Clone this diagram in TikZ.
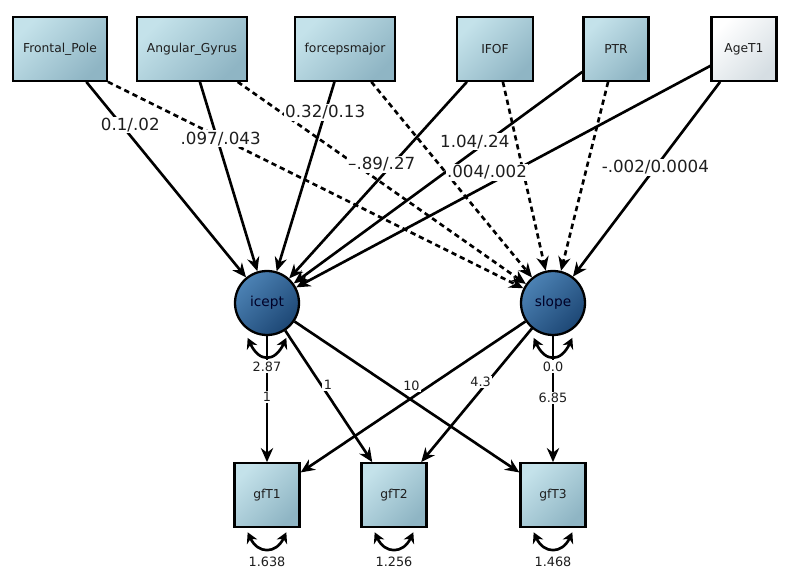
\documentclass[tikz,border=0pt]{standalone}
\usepackage{fontspec}
\setmainfont{DejaVu Sans}
\usetikzlibrary{arrows.meta}

\definecolor{obstop}{HTML}{C4E2EA}
\definecolor{obsbot}{HTML}{8FB5C4}
\definecolor{covtop}{HTML}{FFFFFF}
\definecolor{covbot}{HTML}{D6DEE3}
\definecolor{lattop}{HTML}{4C82B4}
\definecolor{latbot}{HTML}{1D4775}
\definecolor{labtext}{HTML}{1E1E1E}

\begin{document}
\begin{tikzpicture}[x = 0.02cm, y = -0.02cm, >= {Stealth[length=8pt,width=7pt]},
    obs/.style = {draw, line width=1.3pt, minimum width=1.3cm, minimum height=1.27cm,
      inner xsep=0.2cm, top color=obstop, bottom color=obsbot, shading angle=45,
      font=\fontsize{7}{8}\selectfont, text=labtext},
    cov/.style = {obs, top color=covtop, bottom color=covbot, shading angle=45},
    lat/.style = {draw, circle, line width=1.3pt, minimum size=1.28cm, inner sep=0pt,
      top color=lattop, bottom color=latbot, shading angle=45,
      font=\fontsize{7.8}{9}\selectfont, text=black!85!blue},
    reg/.style = {->, line width=1.5pt},
    nsreg/.style = {reg, dash pattern=on 3pt off 2.2pt},
    resvar/.style = {<->, line width=1.5pt, out=-65, in=-115, >={Stealth[length=6pt,width=6.5pt]}},
    coef/.style = {fill=white, inner sep=0.8pt, text=labtext, font=\fontsize{9.5}{10}\selectfont},
    load/.style = {fill=white, inner sep=0.8pt, text=labtext, font=\fontsize{7.3}{8}\selectfont}]
  \useasboundingbox (0, 0) rectangle (788, 574);

  % predictors
  \node[obs] (fp) at (60, 49) {Frontal\_Pole};
  \node[obs] (ag) at (192, 49) {Angular\_Gyrus};
  \node[obs] (fm) at (345, 49) {forcepsmajor};
  \node[obs, minimum width=1.52cm] (ifof) at (495, 49) {IFOF};
  \node[obs] (ptr) at (616, 49) {PTR};
  \node[cov] (age) at (744, 49) {AgeT1};

  % growth factors and measures
  \node[lat] (icept) at (267, 303) {icept};
  \node[lat] (slope) at (553, 303) {slope};
  \node[obs] (t1) at (267, 495) {gfT1};
  \node[obs] (t2) at (394, 495) {gfT2};
  \node[obs] (t3) at (553, 495) {gfT3};

  % paths to slope
  \draw[nsreg] (fp.south east) -- (slope);
  \draw[nsreg] ([xshift=26pt]ag.south) -- (slope);
  \draw[nsreg] ([xshift=15pt]fm.south) -- (slope);
  \draw[nsreg] ([xshift=4.5pt]ifof.south) -- (slope);
  \draw[nsreg] ([xshift=-4.5pt]ptr.south) -- (slope);
  \draw[reg] ([xshift=-13.6pt]age.south) -- node[coef, pos=0.44] {-.002/0.0004} (slope);

  % paths to icept
  \draw[reg] ([xshift=15pt]fp.south) -- node[coef, pos=0.22, xshift=5pt] {0.1/.02} (icept);
  \draw[reg] ([xshift=4.5pt]ag.south) -- node[coef, pos=0.3, xshift=2pt] {.097/.043} (icept);
  \draw[reg] ([xshift=-6pt]fm.south) -- node[coef, pos=0.16] {0.32/0.13} (icept);
  \draw[reg] ([xshift=-16pt]ifof.south) -- node[coef, pos=0.42, xshift=-6pt] {–.89/.27} (icept);
  \draw[reg] ([yshift=-13pt]ptr.west) -- node[coef, pos=0.33, xshift=-7pt] {1.04/.24} (icept);
  \draw[reg] ([yshift=-9.6pt]age.west) -- node[coef, pos=0.48, xshift=-14pt] {.004/.002} (icept);

  % loadings
  \draw[reg] (slope) -- (t1);
  \draw[reg] (slope) -- node[load, pos=0.4, xshift=-4pt] {4.3} (t2);
  \draw[reg] (slope) -- node[load, pos=0.49] {6.85} (t3);
  \draw[reg] (icept) -- node[load, pos=0.48] {1} (t1);
  \draw[reg] (icept) -- node[load, pos=0.41, xshift=4pt] {1} (t2);
  \draw[reg] (icept) -- node[load, pos=0.52, yshift=8pt] {10} (t3);

  % variances
  \draw[resvar] ([xshift=-11pt, yshift=-1pt]icept.south) to[looseness=1.8] node[load, below=1.5pt] {2.87} ([xshift=11pt, yshift=-1pt]icept.south);
  \draw[resvar] ([xshift=-11pt, yshift=-1pt]slope.south) to[looseness=1.8] node[load, below=1.5pt] {0.0} ([xshift=11pt, yshift=-1pt]slope.south);
  \draw[resvar] ([xshift=-11pt, yshift=-2.5pt]t1.south) to[looseness=1.6] node[load, below=3pt] {1.638} ([xshift=11pt, yshift=-2.5pt]t1.south);
  \draw[resvar] ([xshift=-11pt, yshift=-2.5pt]t2.south) to[looseness=1.6] node[load, below=3pt] {1.256} ([xshift=11pt, yshift=-2.5pt]t2.south);
  \draw[resvar] ([xshift=-11pt, yshift=-2.5pt]t3.south) to[looseness=1.6] node[load, below=3pt] {1.468} ([xshift=11pt, yshift=-2.5pt]t3.south);
\end{tikzpicture}
\end{document}
